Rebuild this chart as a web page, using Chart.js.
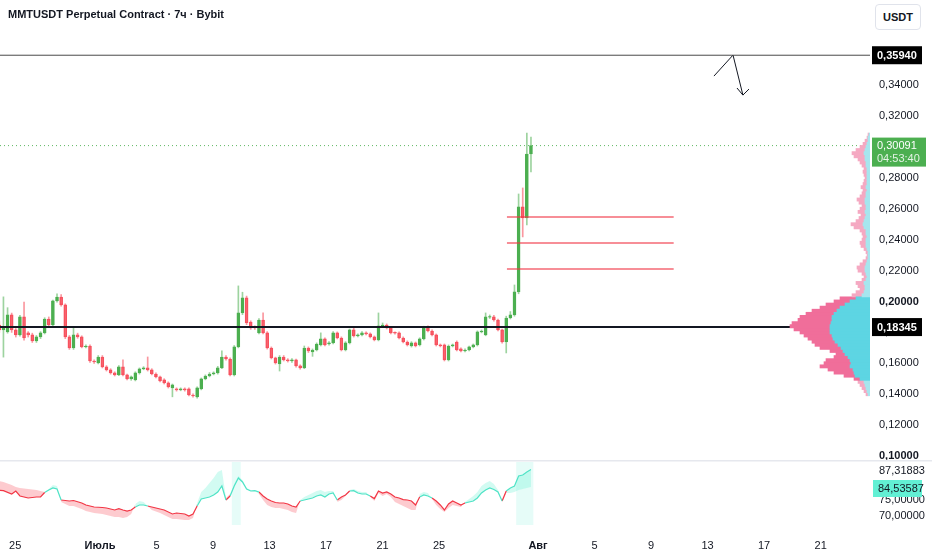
<!DOCTYPE html>
<html>
<head>
<meta charset="utf-8">
<script src="https://cdn.jsdelivr.net/npm/chart.js@4.4.1/dist/chart.umd.min.js"></script>
<style>
  body { margin: 0; background: #fff; width: 932px; height: 550px; overflow: hidden; position: relative; font-family: "Liberation Sans", Arial, sans-serif; }
  canvas { position: absolute; }
  #main { left: 0; top: 0; }
  #vp { left: 770px; top: 0; }
  #ind { left: 0; top: 460px; }
  #title { position: absolute; left: 8px; top: 8px; font-size: 11px; font-weight: bold; color: #131722; }
  #cur { position: absolute; left: 875px; top: 4px; width: 44px; height: 24px; border: 1px solid #e0e3eb; border-radius: 4px;
         font-size: 11px; font-weight: bold; color: #131722; line-height: 24px; text-align: center; background: #fff; }
</style>
</head>
<body>
<canvas id="main" width="932" height="460"></canvas>
<canvas id="vp" width="100" height="460"></canvas>
<canvas id="ind" width="932" height="90"></canvas>
<div id="title">MMTUSDT Perpetual Contract · 7ч · Bybit</div>
<div id="cur">USDT</div>
<script>
// 7h candles, time in days from 1 July
const lastCandleDay = 30.5;
const candleStep = 7 / 24;

const open = [
  .1861,.1848,.1816,.1803,.1913,.1816,.1784,.1900,.1797,.1784,
  .1745,.1771,.1797,.1887,.1848,.2004,.2029,.1978,.1771,.1699,
  .1784,.1771,.1706,.1712,.1615,.1602,.1641,.1577,.1557,.1538,
  .1525,.1577,.1525,.1499,.1493,.1538,.1564,.1570,.1557,.1531,
  .1512,.1493,.1473,.1441,.1434,.1428,.1434,.1434,.1395,.1383,
  .1434,.1499,.1518,.1531,.1538,.1570,.1641,.1628,.1525,.1706,
  .1926,.2023,.1867,.1835,.1797,.1880,.1797,.1699,.1635,.1596,
  .1641,.1622,.1615,.1622,.1583,.1570,.1699,.1673,.1686,.1719,
  .1758,.1725,.1732,.1797,.1764,.1686,.1732,.1816,.1777,.1784,
  .1797,.1790,.1771,.1751,.1842,.1848,.1829,.1800,.1797,.1764,
  .1738,.1712,.1732,.1719,.1758,.1829,.1809,.1784,.1719,.1719,
  .1622,.1712,.1738,.1693,.1680,.1686,.1706,.1719,.1803,.1784,
  .1898,.1900,.1880,.1816,.1738,.1893,.1913,.2062,.2612,.2541,
  .2955
];
const high = [
  .1875,.1870,.2030,.1960,.1925,.1825,.1910,.1997,.1805,.1795,
  .1780,.1805,.1895,.1900,.2010,.2050,.2045,.1985,.1780,.1835,
  .1795,.1778,.1720,.1720,.1622,.1650,.1650,.1585,.1565,.1545,
  .1585,.1622,.1530,.1518,.1545,.1570,.1578,.1641,.1565,.1538,
  .1518,.1500,.1480,.1466,.1441,.1441,.1441,.1441,.1402,.1447,
  .1505,.1525,.1540,.1545,.1580,.1680,.1650,.1635,.1715,.2101,
  .2060,.2035,.1875,.1842,.1890,.1926,.1805,.1706,.1640,.1650,
  .1650,.1630,.1630,.1628,.1590,.1712,.1706,.1693,.1732,.1797,
  .1765,.1740,.1805,.1803,.1771,.1740,.1822,.1835,.1790,.1805,
  .1803,.1797,.1777,.1926,.1861,.1855,.1835,.1803,.1803,.1771,
  .1745,.1740,.1738,.1765,.1840,.1842,.1816,.1790,.1725,.1725,
  .1719,.1725,.1745,.1700,.1693,.1712,.1725,.1810,.1816,.1926,
  .1913,.1910,.1887,.1822,.1905,.1935,.2107,.2696,.2735,.3090,
  .3065
];
const low = [
  .1790,.1800,.1640,.1795,.1800,.1770,.1775,.1750,.1770,.1735,
  .1735,.1760,.1790,.1840,.1840,.1995,.1970,.1760,.1690,.1690,
  .1762,.1700,.1700,.1605,.1600,.1596,.1570,.1550,.1530,.1518,
  .1520,.1518,.1493,.1490,.1486,.1530,.1558,.1550,.1525,.1505,
  .1480,.1466,.1440,.1383,.1420,.1422,.1420,.1389,.1380,.1375,
  .1428,.1493,.1512,.1525,.1530,.1565,.1620,.1518,.1518,.1700,
  .1915,.1850,.1820,.1820,.1790,.1790,.1692,.1628,.1595,.1550,
  .1615,.1608,.1605,.1575,.1562,.1565,.1670,.1645,.1680,.1712,
  .1712,.1718,.1725,.1758,.1680,.1680,.1725,.1770,.1770,.1777,
  .1784,.1764,.1745,.1745,.1835,.1822,.1790,.1788,.1758,.1732,
  .1712,.1705,.1706,.1712,.1751,.1803,.1777,.1712,.1706,.1615,
  .1615,.1706,.1680,.1673,.1673,.1680,.1700,.1712,.1797,.1778,
  .1890,.1873,.1809,.1730,.1667,.1887,.1905,.2050,.2418,.2495,
  .2838
];
const close = [
  .1803,.1816,.1835,.1913,.1816,.1784,.1900,.1764,.1784,.1745,
  .1771,.1797,.1887,.1848,.2004,.2029,.1978,.1771,.1699,.1784,
  .1771,.1706,.1712,.1615,.1609,.1641,.1577,.1557,.1538,.1525,
  .1577,.1525,.1499,.1512,.1538,.1564,.1570,.1557,.1531,.1512,
  .1486,.1473,.1447,.1460,.1428,.1434,.1428,.1395,.1389,.1441,
  .1499,.1518,.1531,.1538,.1570,.1641,.1628,.1525,.1706,.1926,
  .2023,.1861,.1829,.1829,.1880,.1797,.1699,.1635,.1602,.1641,
  .1622,.1615,.1622,.1583,.1570,.1699,.1680,.1686,.1725,.1758,
  .1719,.1732,.1797,.1764,.1686,.1732,.1816,.1777,.1784,.1797,
  .1790,.1771,.1751,.1842,.1848,.1829,.1797,.1795,.1764,.1738,
  .1719,.1732,.1712,.1758,.1829,.1809,.1784,.1719,.1712,.1622,
  .1712,.1719,.1686,.1680,.1686,.1706,.1719,.1803,.1809,.1900,
  .1903,.1880,.1816,.1738,.1893,.1913,.2062,.2612,.2541,.2955,
  .30091
];

// horizontal levels and drawings
const resistance = 0.3594;
const support = 0.18345;
const lastPrice = 0.30091;
const countdown = '04:53:40';
const redLevels = [0.2547, 0.2379, 0.2210];
const redLevelDays = [28.8, 40.6];
const arrowDays = [43.45, 44.8, 45.5];
const arrowPrices = [0.3459, 0.3595, 0.3336];
const arrowHeadDays = [45.08, 45.5, 45.93];
const arrowHeadPrices = [0.3382, 0.3336, 0.3375];

// price axis ticks
const priceTicks = [0.10,0.12,0.14,0.16,0.18,0.20,0.22,0.24,0.26,0.28,0.30,0.32,0.34,0.36,0.38];

// time axis
const tickDays = [-6, 0, 4, 8, 12, 16, 20, 24, 31, 35, 39, 43, 47, 51];
const tickLabels = ['25','Июль','5','9','13','17','21','25','Авг','5','9','13','17','21'];

// volume profile rows (0.140 .. 0.308, step 0.002)
const vpFirst = 0.140, vpStep = 0.002;
const vpUp = [
  2,3,4,5,6,10,15,16,17,20, 19,20,22,25,27,29,32,35,37,38,
  40,40,40,39,38,38,36,33,30,25, 20,14,8,6,5,5,6,4,3,4,
  5,5,4,3,2,2,2,3,4,4, 4,3,4,4,6,7,6,5,4,5,
  4,4,5,5,4,4,3,4,3,3, 3,3,3,3,4,4,5,5,6,5,
  4,3,2,2,1
];
const vpDown = [
  2,3,4,5,6,6,11,20,25,30, 27,24,14,9,13,21,23,23,25,28,
  30,36,40,39,34,32,28,25,20,19, 16,16,10,8,5,7,8,4,3,4,
  7,8,6,4,2,1,2,3,5,6, 4,4,4,6,10,12,8,6,5,7,
  6,4,6,8,6,4,4,5,4,3, 2,3,4,3,4,6,7,11,12,9,
  6,4,3,1,1
];
const valueArea = [0.149, 0.2035];

// indicator pane
const indIdx = [0,2,4,5,6,8,10,11,12,13,14,15,16,18,19,21,22,24,26,27,28,29,30,31,32,33,34,35,36,37,38,40,41,43,44,46,47,48,
  49,50,51,52,53,54,55,56,57,58,59,60,61,62,63,64,65,66,67,68,69,70,71,72,73,74,75,76,77,78,79,80,81,82,83,84,85,86,87,88,89,90,
  91,92,93,94,95,96,97,98,99,100,101,102,103,104,105,106,107,108,109,110,111,112,113,114,115,116,117,118,119,120,121,122,123,
  124,125,126,127,128,129,130];
const indLine = [78.13,77.91,76.88,77.81,76.25,75.63,75.94,75.94,77.34,78.13,78.75,78.44,75.00,74.69,74.84,74.06,73.44,72.81,
  72.66,72.50,72.19,71.88,72.31,71.88,71.56,71.88,72.81,73.44,73.44,73.13,72.81,72.19,71.88,70.63,70.94,70.63,70.00,70.63,
  73.13,75.31,75.63,75.94,76.56,77.50,79.38,75.00,76.25,79.38,81.88,80.63,78.44,77.81,77.91,77.50,76.25,75.31,74.69,74.22,
  74.06,74.06,73.75,73.13,72.81,74.69,75.00,75.31,75.63,76.25,76.56,75.94,76.88,77.19,75.00,75.94,76.56,77.81,77.91,77.19,
  76.88,76.88,76.25,75.44,77.81,77.19,77.50,76.88,75.94,75.63,75.13,75.00,74.69,73.44,75.94,76.56,76.25,75.63,74.69,73.44,
  71.88,73.75,74.69,74.06,73.44,74.06,74.38,74.69,75.63,77.19,78.13,78.75,78.28,77.50,74.69,77.81,78.75,79.38,82.50,82.81,
  83.75,84.54];
const indBand = [81.25,80.63,79.69,79.06,78.75,78.44,78.13,77.81,77.50,78.44,79.69,79.38,74.38,73.13,73.13,72.19,71.56,70.94,
  70.63,70.31,70.00,69.69,69.69,69.38,69.69,70.63,73.75,74.69,74.38,73.13,71.88,70.94,70.31,69.06,69.06,68.75,68.75,69.38,
  74.06,77.50,78.75,80.31,81.88,83.75,84.38,75.63,76.88,80.00,82.50,81.25,78.75,78.13,77.81,76.88,75.00,73.44,72.81,72.50,
  72.50,72.19,71.88,71.25,70.94,75.00,75.94,76.56,77.19,77.81,78.13,77.50,77.81,77.81,74.38,75.00,76.25,78.13,78.44,77.81,
  77.50,77.50,75.94,74.69,77.19,76.25,76.88,75.94,74.38,73.75,73.13,72.50,71.88,71.88,76.88,77.50,77.19,75.31,73.44,72.19,
  71.25,72.50,73.44,73.13,72.81,74.38,75.31,76.25,77.50,79.38,80.31,80.94,80.00,78.13,74.38,77.19,77.19,77.50,78.13,78.44,
  78.75,79.06];
const indUp = [0,0,0,0,0,0,0,0,1,1,1,1,0,0,0,0,0,0,0,0,0,0,0,0,0,0,1,1,1,0,0,0,0,0,0,0,0,0,
  1,1,1,1,1,1,1,0,1,1,1,1,1,1,1,0,0,0,0,0,0,0,0,0,0,1,1,1,1,1,1,1,1,1,0,0,0,1,1,1,1,1,
  0,0,0,0,0,0,0,0,0,0,0,0,1,1,1,0,0,0,0,0,0,0,0,1,1,1,1,1,1,1,1,1,0,
  1,1,1,1,1,1,1];
const indHighlight = [[58, 59], [127, 130]];   // first and last candle of each shaded zone
const indUpper = 87.31883;
const indLast = 84.53587;
const indTicks = [70, 75];

// ---- layout helpers ----
const dayW = 14.13;                 // px per day
const xMin = -100 / dayW, xMax = 770 / dayW;
const yMin = 0.09741, yMax = 0.39515;
const indMin = 67.1875, indMax = 86.875;
const FONT = '"Liberation Sans", Arial, sans-serif';
const TXT = '#131722';
const GREEN = '#4caf50', RED = '#f7525f';

const candleT = close.map((c, i) => lastCandleDay - (close.length - 1 - i) * candleStep);
const fmt = v => v.toFixed(5).replace('.', ',');

function box(g, x, y, w, h, bg) { g.fillStyle = bg; g.fillRect(x, y, w, h); }

// right axis: fixed width, no extra padding so the plot keeps its full height
function fitRight(s) {
  s.width = 62;
  s.paddingTop = 0;
  s.paddingBottom = 0;
}

const priceTags = {
  id: 'priceTags',
  afterDraw(c) {
    const g = c.ctx, y = c.scales.y;
    g.save();
    g.textBaseline = 'middle';
    g.font = 'bold 11px ' + FONT;
    [resistance, support].forEach(v => {
      const py = y.getPixelForValue(v);
      box(g, 872, py - 9, 50, 18, '#000');
      g.fillStyle = '#fff';
      g.fillText(fmt(v), 877, py + 0.5);
    });
    const py = y.getPixelForValue(lastPrice);
    box(g, 872, py - 8, 54, 29, GREEN);
    g.fillStyle = '#fff';
    g.font = '11px ' + FONT;
    g.fillText(fmt(lastPrice), 877, py + 0.5);
    g.fillStyle = 'rgba(255,255,255,0.85)';
    g.fillText(countdown, 877, py + 13.5);
    g.restore();
  }
};

// ---- main pane ----
const flat = (v, a, b) => [{ x: a, y: v }, { x: b, y: v }];
const lineDs = (data, color, width, extra) => Object.assign({
  type: 'line', data, borderColor: color, borderWidth: width, pointRadius: 0, fill: false, tension: 0
}, extra || {});

const mainSets = [
  lineDs(flat(support, xMin, xMax), '#131722', 2),
  lineDs(flat(resistance, xMin, xMax), '#4a4a4a', 1),
  lineDs(flat(lastPrice, xMin, xMax), 'rgba(76,175,80,0.9)', 1, { borderDash: [1, 3] }),
  ...redLevels.map(v => lineDs(flat(v, redLevelDays[0], redLevelDays[1]), 'rgba(242,54,69,0.75)', 1.5)),
  lineDs(arrowDays.map((d, i) => ({ x: d, y: arrowPrices[i] })), '#131722', 1),
  lineDs(arrowHeadDays.map((d, i) => ({ x: d, y: arrowHeadPrices[i] })), '#131722', 1),
  {
    type: 'bar', grouped: false, barThickness: 3,
    data: close.map((c, i) => ({ x: candleT[i], y: [open[i], c] })),
    backgroundColor: close.map((c, i) => c >= open[i] ? GREEN : 'rgba(247,82,95,0.28)'),
    borderColor: close.map((c, i) => c >= open[i] ? GREEN : RED),
    borderWidth: 1, borderSkipped: false
  },
  {
    type: 'bar', grouped: false, barThickness: 1,
    data: close.map((c, i) => ({ x: candleT[i], y: [low[i], high[i]] })),
    backgroundColor: close.map((c, i) => c >= open[i] ? 'rgba(76,175,80,0.55)' : 'rgba(247,82,95,0.6)')
  }
];

const isBoldPrice = v => Math.abs(v - 0.1) < 1e-6 || Math.abs(v - 0.2) < 1e-6;

new Chart(document.getElementById('main'), {
  type: 'bar',
  data: { datasets: mainSets },
  options: {
    responsive: false, animation: false, events: [],
    layout: { padding: 0 },
    plugins: { legend: { display: false }, tooltip: { enabled: false } },
    scales: {
      x: { type: 'linear', min: xMin, max: xMax, offset: false, display: false },
      y: {
        position: 'right', min: yMin, max: yMax,
        grid: { display: false }, border: { display: false },
        afterFit: fitRight,
        afterBuildTicks: s => { s.ticks = priceTicks.map(v => ({ value: v })); },
        ticks: {
          padding: 1, color: TXT,
          font: ctx => ({ family: FONT, size: 11, weight: (ctx.tick && isBoldPrice(ctx.tick.value)) ? 'bold' : 'normal' }),
          callback: v => fmt(v)
        }
      }
    }
  },
  plugins: [priceTags]
});

// ---- volume profile ----
const vpPrice = vpUp.map((u, i) => +(vpFirst + i * vpStep).toFixed(3));
const inVA = p => p >= valueArea[0] && p <= valueArea[1];

new Chart(document.getElementById('vp'), {
  type: 'bar',
  data: {
    datasets: [
      {
        data: vpUp.map((u, i) => ({ x: [0, u], y: vpPrice[i] })),
        backgroundColor: vpPrice.map(p => inVA(p) ? '#5dd5e3' : '#a6e6ee'),
        barThickness: 3.2, grouped: false
      },
      {
        data: vpDown.map((d, i) => ({ x: [vpUp[i], vpUp[i] + d], y: vpPrice[i] })),
        backgroundColor: vpPrice.map(p => inVA(p) ? '#f06e9a' : '#f5a9c2'),
        barThickness: 3.2, grouped: false
      }
    ]
  },
  options: {
    indexAxis: 'y', responsive: false, animation: false, events: [],
    layout: { padding: 0 },
    plugins: { legend: { display: false }, tooltip: { enabled: false } },
    scales: {
      x: { type: 'linear', reverse: true, min: 0, max: 100, display: false },
      y: { type: 'linear', min: yMin, max: yMax, display: false, offset: false }
    }
  }
});

// ---- indicator pane ----
const indSets = [];
let start = 0;
for (let k = 1; k <= indIdx.length; k++) {
  if (k === indIdx.length || indUp[k] !== indUp[start]) {
    const end = Math.min(k, indIdx.length - 1);
    const up = indUp[start] === 1;
    const s0 = start;
    const pts = arr => arr.slice(s0, end + 1).map((v, j) => ({ x: candleT[indIdx[s0 + j]], y: v }));
    indSets.push(lineDs(pts(indLine), up ? '#4fe3c6' : '#f23645', 1.2));
    indSets.push(lineDs(pts(indBand), 'rgba(0,0,0,0)', 0, {
      fill: '-1', backgroundColor: up ? 'rgba(94,240,210,0.28)' : 'rgba(247,82,95,0.3)'
    }));
    start = k;
  }
}
indHighlight.forEach(([a, b]) => {
  indSets.push({
    type: 'bar', grouped: false,
    barThickness: (b - a + 1) * candleStep * dayW,
    data: [{ x: (candleT[a] + candleT[b]) / 2, y: [indMin, indMax] }],
    backgroundColor: 'rgba(60,235,200,0.13)'
  });
});

const indTags = {
  id: 'indTags',
  afterDraw(c) {
    const g = c.ctx;
    g.save();
    g.fillStyle = '#e6e8ee';
    g.fillRect(0, 0, 932, 1.5);
    g.font = '11px ' + FONT;
    g.textBaseline = 'middle';
    g.fillStyle = TXT;
    g.fillText(fmt(indUpper), 879, 10.5);
    box(g, 873, 20, 49, 17, '#62f0d4');
    g.fillStyle = TXT;
    g.fillText(fmt(indLast), 878, 28.5);
    g.restore();
  }
};

new Chart(document.getElementById('ind'), {
  type: 'line',
  data: { datasets: indSets },
  options: {
    responsive: false, animation: false, events: [],
    layout: { padding: { top: 2 } },
    plugins: { legend: { display: false }, tooltip: { enabled: false } },
    scales: {
      x: {
        type: 'linear', min: xMin, max: xMax, offset: false,
        grid: { display: false }, border: { display: false },
        afterFit: s => { s.height = 25; s.paddingLeft = 0; s.paddingRight = 0; },
        afterBuildTicks: s => { s.ticks = tickDays.map(v => ({ value: v })); },
        ticks: {
          autoSkip: false, maxRotation: 0, padding: 6, color: TXT,
          font: ctx => ({ family: FONT, size: 11, weight: /[А-я]/.test(tickLabels[ctx.index] || '') ? 'bold' : 'normal' }),
          callback: (v, i) => tickLabels[i]
        }
      },
      y: {
        position: 'right', min: indMin, max: indMax,
        grid: { display: false }, border: { display: false },
        afterFit: fitRight,
        afterBuildTicks: s => { s.ticks = indTicks.map(v => ({ value: v })); },
        ticks: { padding: 1, color: TXT, font: { family: FONT, size: 11 }, callback: v => fmt(v) }
      }
    }
  },
  plugins: [indTags]
});
</script>
</body>
</html>
